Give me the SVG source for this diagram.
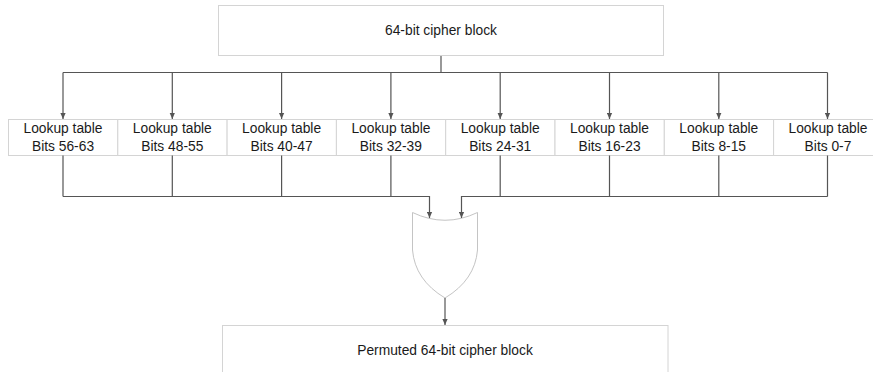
<svg xmlns="http://www.w3.org/2000/svg" width="873" height="372" viewBox="0 0 873 372">
  <style>
    .box { fill: #ffffff; stroke: #d4d4d4; stroke-width: 1; }
    .gate { fill: #ffffff; stroke: #c4c4c4; stroke-width: 1; }
    .lbl { font-family: "Liberation Sans", Arial, sans-serif; font-size: 13.8px; fill: #1a1a1a; text-anchor: middle; }
    .wire { fill: none; stroke: #555555; stroke-width: 1.2; }
  </style>
  <defs>
    <marker id="arrow" viewBox="0 0 6 6" refX="6" refY="3" markerWidth="6" markerHeight="6" markerUnits="userSpaceOnUse" orient="auto">
      <path d="M0,0.4 L6,3 L0,5.6 Z" fill="#555555"/>
    </marker>
  </defs>
  <rect width="873" height="372" fill="#ffffff"/>

  <!-- source block -->
  <g id="cipher-in">
    <rect class="box" x="218.5" y="5.5" width="445" height="50"/>
    <text class="lbl" x="441" y="35">64-bit cipher block</text>
  </g>

  <!-- lookup tables -->
  <g id="lut-56-63"><rect class="box" x="8.5" y="119.5" width="109.3" height="36"/><text class="lbl" x="63" y="133">Lookup table</text><text class="lbl" x="63" y="151">Bits 56-63</text></g>
  <g id="lut-48-55"><rect class="box" x="117.8" y="119.5" width="109.3" height="36"/><text class="lbl" x="172.3" y="133">Lookup table</text><text class="lbl" x="172.3" y="151">Bits 48-55</text></g>
  <g id="lut-40-47"><rect class="box" x="227.1" y="119.5" width="109.3" height="36"/><text class="lbl" x="281.6" y="133">Lookup table</text><text class="lbl" x="281.6" y="151">Bits 40-47</text></g>
  <g id="lut-32-39"><rect class="box" x="336.4" y="119.5" width="109.3" height="36"/><text class="lbl" x="390.9" y="133">Lookup table</text><text class="lbl" x="390.9" y="151">Bits 32-39</text></g>
  <g id="lut-24-31"><rect class="box" x="445.7" y="119.5" width="109.3" height="36"/><text class="lbl" x="500.2" y="133">Lookup table</text><text class="lbl" x="500.2" y="151">Bits 24-31</text></g>
  <g id="lut-16-23"><rect class="box" x="555" y="119.5" width="109.3" height="36"/><text class="lbl" x="609.5" y="133">Lookup table</text><text class="lbl" x="609.5" y="151">Bits 16-23</text></g>
  <g id="lut-8-15"><rect class="box" x="664.3" y="119.5" width="109.3" height="36"/><text class="lbl" x="718.8" y="133">Lookup table</text><text class="lbl" x="718.8" y="151">Bits 8-15</text></g>
  <g id="lut-0-7"><rect class="box" x="773.6" y="119.5" width="109.3" height="36"/><text class="lbl" x="828" y="133">Lookup table</text><text class="lbl" x="828" y="151">Bits 0-7</text></g>

  <!-- combining gate -->
  <g id="or-gate">
    <path class="gate" d="M412.5,212.5 Q445,228 477.5,212.5 L477.5,250 Q475,280 445,298 Q415,280 412.5,250 Z"/>
  </g>

  <!-- result block -->
  <g id="cipher-out">
    <rect class="box" x="222.5" y="325.5" width="445.5" height="60"/>
    <text class="lbl" x="445" y="355">Permuted 64-bit cipher block</text>
  </g>

  <g id="connectors">
    <!-- fan-out -->
    <path class="wire" d="M441,56 V72.5 M63,72.5 H827.5"/>
    <path class="wire" marker-end="url(#arrow)" d="M63,72.5 V119"/>
    <path class="wire" marker-end="url(#arrow)" d="M172.3,72.5 V119"/>
    <path class="wire" marker-end="url(#arrow)" d="M281.6,72.5 V119"/>
    <path class="wire" marker-end="url(#arrow)" d="M390.9,72.5 V119"/>
    <path class="wire" marker-end="url(#arrow)" d="M500.2,72.5 V119"/>
    <path class="wire" marker-end="url(#arrow)" d="M609.5,72.5 V119"/>
    <path class="wire" marker-end="url(#arrow)" d="M718.8,72.5 V119"/>
    <path class="wire" marker-end="url(#arrow)" d="M827.5,72.5 V119"/>
    <!-- fan-in -->
    <path class="wire" d="M63,155.5 V196.5 M172.3,155.5 V196.5 M281.6,155.5 V196.5 M390.9,155.5 V196.5"/>
    <path class="wire" marker-end="url(#arrow)" d="M63,196.5 H429.5 V218"/>
    <path class="wire" d="M500.2,155.5 V196.5 M609.5,155.5 V196.5 M718.8,155.5 V196.5 M827.5,155.5 V196.5"/>
    <path class="wire" marker-end="url(#arrow)" d="M827.5,196.5 H461.5 V218"/>
    <!-- output -->
    <path class="wire" marker-end="url(#arrow)" d="M445,298 V325"/>
  </g>
</svg>
